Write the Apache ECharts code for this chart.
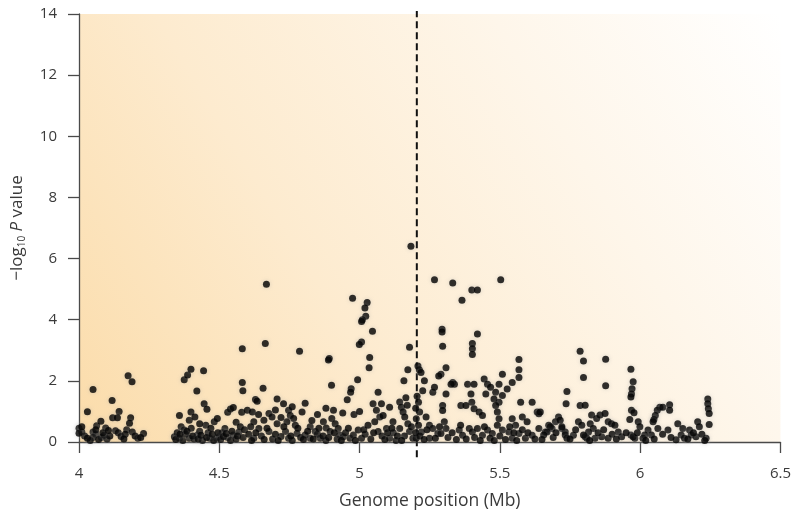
<!DOCTYPE html>
<html>
<head>
<meta charset="utf-8">
<script src="https://cdn.jsdelivr.net/npm/echarts@6/dist/echarts.min.js"></script>
<style>
  html, body { margin: 0; padding: 0; background: #fff; }
  #chart { width: 794px; height: 515px; }
</style>
</head>
<body>
<div id="chart"></div>
<script>
// genome position (Mb), -log10 P, grouped by region
var leftCluster = [
  [4.0,0.45],[4.01,0.33],[4.03,0.99],[4.05,1.72],[4.05,0.33],[4.06,0.25],[4.05,0.15],[4.08,0.15],
  [4.10,0.1],[4.063,0.53],[4.095,0.46],[4.078,0.68],[4.118,1.36],[4.143,1.0],[4.12,0.79],[4.137,0.79],
  [4.184,0.79],[4.13,0.37],[4.14,0.3],[4.17,0.4],[4.19,0.33],[4.21,0.12],[4.23,0.28],[4.18,0.61],
  [4.175,2.17],[4.189,1.97],[4.02,0.2],[4.04,0.05],[4.07,0.08],[4.09,0.22],[4.15,0.18],[4.165,0.25],
  [4.2,0.2],[4.11,0.2],[4.0,0.29],[4.01,0.5],[4.03,0.12],[4.06,0.4],[4.085,0.3],[4.105,0.38],
  [4.16,0.1],[4.22,0.15]
];
var secondCluster = [
  [4.34,0.17],[4.358,0.12],[4.364,0.5],[4.375,0.39],[4.358,0.87],[4.393,0.12],[4.393,0.71],[4.399,0.98],
  [4.413,0.82],[4.422,0.23],[4.446,1.25],[4.456,1.07],[4.452,0.55],[4.466,0.12],[4.482,0.66],[4.49,0.12],
  [4.493,0.77],[4.50,0.17],[4.52,0.44],[4.53,0.15],[4.53,0.97],[4.54,1.08],[4.55,1.13],[4.55,0.23],
  [4.56,0.65],[4.57,0.33],[4.58,0.97],[4.375,2.04],[4.387,2.19],[4.399,2.38],[4.444,2.33],[4.42,1.67],
  [4.582,3.05],[4.584,1.68],[4.582,1.95],[4.35,0.3],[4.37,0.05],[4.38,0.25],[4.41,0.1],[4.43,0.35],
  [4.44,0.05],[4.46,0.3],[4.47,0.45],[4.48,0.05],[4.51,0.3],[4.54,0.05],[4.56,0.1],[4.575,0.5],
  [4.40,0.45],[4.43,0.6],[4.345,0.08],[4.36,0.25],[4.385,0.35],[4.405,0.2],[4.425,0.1],[4.435,0.22],
  [4.455,0.15],[4.475,0.25],[4.495,0.3],[4.505,0.08],[4.515,0.18],[4.525,0.28],[4.545,0.35],[4.565,0.2],
  [4.585,0.15],[4.59,0.4]
];
var centreLeft = [
  [4.600,1.04],[4.618,0.98],[4.677,0.93],[4.688,0.82],[4.747,1.04],[4.753,0.87],[4.765,0.77],[4.795,0.98],
  [4.741,0.66],[4.771,0.55],[4.706,0.60],[4.659,0.71],[4.623,0.66],[4.612,0.50],[4.641,0.44],[4.677,0.34],
  [4.736,0.34],[4.777,0.28],[4.824,0.50],[4.842,0.34],[4.871,0.66],[4.901,0.77],[4.907,1.04],[4.913,0.60],
  [4.881,0.46],[4.895,0.34],[4.924,0.44],[4.930,0.23],[4.942,0.17],[4.966,0.12],[4.978,0.23],[4.995,0.39],
  [5.007,0.12],[4.86,0.12],[4.824,0.12],[4.806,0.23],[4.623,0.12],[4.747,0.12],[5.048,1.25],[5.06,1.04],
  [5.078,1.25],[5.072,0.82],[5.054,0.66],[5.084,0.87],[5.107,1.14],[5.119,0.66],[5.143,1.31],[5.149,1.14],
  [5.155,0.98],[5.161,0.82],[5.172,0.60],[5.143,0.44],[5.096,0.44],[5.107,0.12],[5.066,0.34],[5.178,0.34],
  [5.19,0.12],[4.668,5.16],[4.975,4.70],[5.027,4.56],[5.019,4.38],[5.022,4.11],[5.01,4.0],[5.007,3.94],
  [5.046,3.62],[5.007,3.27],[4.999,3.19],[4.664,3.22],[4.786,2.97],[4.892,2.73],[4.889,2.68],[5.036,2.76],
  [5.034,2.43],[5.178,3.10],[5.172,2.36],[5.158,2.0],[4.90,1.86],[4.993,2.04],[4.97,1.74],[4.968,1.63],
  [4.956,1.38],[4.656,1.76],[5.066,1.63],[4.629,1.39],[4.635,1.33],[4.706,1.41],[4.729,1.25],[4.806,1.27],
  [5.183,6.40],[4.65,0.2],[4.69,0.1],[4.72,0.18],[4.76,0.05],[4.79,0.15],[4.85,0.25],[4.88,0.05],
  [4.92,0.1],[4.95,0.3],[5.02,0.25],[5.04,0.1],[5.08,0.2],[5.12,0.3],[5.16,0.2],[5.17,1.2],
  [5.165,1.45],[4.64,0.9],[4.72,0.8],[4.83,0.7],[4.98,0.9],[5.0,1.0],[5.13,0.05],
  [4.605,0.25],[4.615,0.05],[4.63,0.3],[4.66,0.08],[4.67,0.45],[4.7,0.25],[4.71,0.05],[4.73,0.5],
  [4.755,0.2],[4.78,0.45],[4.8,0.08],[4.815,0.35],[4.835,0.1],[4.855,0.45],[4.87,0.2],[4.89,0.15],
  [4.91,0.3],[4.935,0.05],[4.96,0.45],[4.985,0.05],[5.015,0.4],[5.03,0.55],[5.05,0.3],[5.09,0.08],
  [5.1,0.3],[5.115,0.45],[5.135,0.2],[5.15,0.05],[5.185,0.5],[4.7,1.05],[4.76,1.15],[4.85,0.9],
  [4.88,1.1],[4.94,0.95]
];
var centreRight = [
  [5.267,5.31],[5.332,5.20],[5.40,4.97],[5.42,4.97],[5.365,4.64],[5.503,5.31],[5.294,3.69],[5.294,3.6],
  [5.296,3.13],[5.42,3.53],[5.402,3.22],[5.402,3.05],[5.402,2.86],[5.568,2.70],[5.568,2.36],[5.568,2.11],
  [5.786,2.97],[5.798,2.65],[5.798,2.11],[5.208,2.49],[5.213,2.36],[5.219,2.27],[5.231,2.0],[5.308,2.43],
  [5.29,2.22],[5.282,2.16],[5.332,1.95],[5.338,1.89],[5.326,1.89],[5.385,1.89],[5.408,1.89],[5.444,2.06],
  [5.456,1.89],[5.497,1.89],[5.509,2.22],[5.544,1.95],[5.225,1.68],[5.261,1.63],[5.267,1.79],[5.308,1.57],
  [5.397,1.57],[5.40,1.30],[5.45,1.57],[5.467,1.79],[5.485,1.63],[5.509,1.52],[5.526,1.73],[5.497,1.30],
  [5.296,1.19],[5.296,1.03],[5.361,1.19],[5.379,1.19],[5.408,1.09],[5.426,0.98],[5.438,0.87],[5.479,1.41],
  [5.485,1.19],[5.491,0.98],[5.497,0.76],[5.574,1.30],[5.615,1.30],[5.633,0.98],[5.639,0.92],[5.739,1.65],
  [5.736,1.25],[5.786,1.19],[5.709,0.82],[5.698,0.66],[5.686,0.44],[5.58,0.82],[5.597,0.66],[5.544,0.76],
  [5.556,0.55],[5.214,0.98],[5.202,0.76],[5.237,0.82],[5.249,0.55],[5.22,0.33],[5.261,0.44],[5.279,0.28],
  [5.302,0.66],[5.308,0.44],[5.29,0.28],[5.355,0.39],[5.367,0.22],[5.391,0.44],[5.402,0.33],[5.42,0.44],
  [5.438,0.22],[5.456,0.39],[5.473,0.28],[5.491,0.55],[5.509,0.39],[5.532,0.33],[5.544,0.12],[5.568,0.28],
  [5.591,0.12],[5.615,0.22],[5.639,0.44],[5.662,0.33],[5.674,0.55],[5.721,0.44],[5.733,0.33],[5.762,0.22],
  [5.78,0.66],[5.792,0.55],[5.804,0.17],[5.249,0.12],[5.202,0.12],[5.644,0.98],[5.715,0.71],[5.68,0.50],
  [5.668,0.33],[5.656,0.23],[5.721,0.50],[5.733,0.23],[5.739,0.12],[5.205,1.5],[5.21,1.3],[5.2,1.1],
  [5.21,0.55],[5.2,0.3],[5.215,0.2],[5.23,0.08],[5.24,0.4],[5.27,0.12],[5.285,0.5],[5.315,0.15],
  [5.33,0.3],[5.345,0.08],[5.36,0.55],[5.38,0.1],[5.41,0.15],[5.43,0.05],[5.445,0.5],[5.465,0.12],
  [5.48,0.05],[5.5,0.2],[5.52,0.08],[5.535,0.5],[5.55,0.3],[5.56,0.05],[5.58,0.4],[5.6,0.3],
  [5.625,0.1],[5.65,0.08],[5.69,0.15],[5.7,0.3],[5.75,0.1],[5.77,0.4]
];
var rightCluster = [
  [5.877,2.71],[5.877,1.84],[5.967,2.38],[5.975,1.97],[5.971,1.74],[5.969,1.57],[5.967,1.47],[5.969,1.04],
  [5.978,0.96],[5.963,0.74],[5.993,0.66],[5.999,0.50],[5.967,0.23],[5.981,0.12],[5.975,0.17],[6.07,1.14],
  [6.061,1.04],[6.054,0.87],[6.049,0.74],[6.046,0.66],[6.081,1.14],[6.105,1.22],[6.105,1.04],[6.134,0.60],
  [6.152,0.44],[6.176,0.39],[6.205,0.66],[6.211,0.50],[6.182,0.23],[6.146,0.23],[6.128,0.07],[6.158,0.12],
  [6.199,0.17],[6.235,0.12],[6.099,0.39],[6.063,0.44],[6.028,0.39],[6.04,0.23],[6.016,0.23],[6.01,0.12],
  [6.241,1.41],[6.241,1.25],[6.243,1.09],[6.246,0.93],[6.246,0.57],[5.804,1.20],[5.827,0.88],[5.845,0.77],
  [5.857,0.88],[5.875,0.93],[5.886,0.66],[5.898,0.60],[5.91,0.55],[5.822,0.60],[5.833,0.44],[5.816,0.33],
  [5.839,0.12],[5.863,0.17],[5.886,0.12],[5.922,0.33],[5.934,0.17],[5.81,0.12],[5.798,0.23],
  [5.82,0.05],[5.85,0.3],[5.87,0.4],[5.9,0.25],[5.915,0.1],[5.95,0.3],[5.99,0.3],[6.02,0.05],
  [6.05,0.1],[6.08,0.25],[6.11,0.15],[6.17,0.1],[6.19,0.3],[6.22,0.25],[6.23,0.05]
];
var markerPos = 5.204;          // dashed vertical marker (Mb)
var markerSpan = [-0.5, 14.1];  // vertical extent of the marker
var xTicks = [4, 6.5, 0.5];     // min, max, interval
var yTicks = [0, 14, 2];

var font = '"Open Sans", "Noto Sans", sans-serif';
var chart = echarts.init(document.getElementById('chart'), null, { renderer: 'canvas' });

var points = [].concat(leftCluster, secondCluster, centreLeft, centreRight, rightCluster);

var axisCommon = {
  axisLine: { show: true, lineStyle: { color: '#4a4a4a', width: 1.3 } },
  axisTick: { show: true, inside: false, length: 11, lineStyle: { color: '#4a4a4a', width: 1.3 } },
  splitLine: { show: false },
  axisLabel: { color: '#3a3a3a', fontFamily: font, fontSize: 15 }
};

chart.setOption({
  backgroundColor: '#ffffff',
  animation: false,
  grid: {
    left: 79, right: 9, top: 14, bottom: 68,
    show: true, borderWidth: 0,
    backgroundColor: new echarts.graphic.LinearGradient(0, 1, 1, 0, [
      { offset: 0, color: '#fbdcaa' },
      { offset: 0.35, color: '#fdebcf' },
      { offset: 0.7, color: '#fef6ea' },
      { offset: 1, color: '#ffffff' }
    ])
  },
  xAxis: Object.assign({}, axisCommon, {
    type: 'value',
    min: xTicks[0], max: xTicks[1], interval: xTicks[2],
    name: 'Genome position (Mb)',
    nameLocation: 'middle', nameGap: 50,
    nameTextStyle: { color: '#3a3a3a', fontFamily: font, fontSize: 17.5 },
    axisLabel: Object.assign({}, axisCommon.axisLabel, { margin: 24 })
  }),
  yAxis: Object.assign({}, axisCommon, {
    type: 'value',
    min: yTicks[0], max: yTicks[1], interval: yTicks[2],
    name: '{a|\u2212log}{b|10}{a| }{i|P}{a| value}',
    nameLocation: 'middle', nameGap: 52, nameRotate: 90,
    nameTextStyle: {
      color: '#3a3a3a', fontFamily: font, fontSize: 17,
      rich: {
        a: { fontFamily: font, fontSize: 17, lineHeight: 20, color: '#3a3a3a' },
        i: { fontFamily: font, fontSize: 17, lineHeight: 20, fontStyle: 'italic', color: '#3a3a3a' },
        b: { fontFamily: font, fontSize: 10, lineHeight: 10, verticalAlign: 'bottom', color: '#3a3a3a' }
      }
    },
    axisLabel: Object.assign({}, axisCommon.axisLabel, { margin: 22 })
  }),
  series: [
    {
      type: 'line',
      data: [[markerPos, markerSpan[0]], [markerPos, markerSpan[1]]],
      symbol: 'none',
      clip: false,
      silent: true,
      z: 1,
      lineStyle: { color: '#111', width: 2, type: [7, 4] }
    },
    {
      type: 'scatter',
      data: points,
      symbol: 'circle',
      symbolSize: 7,
      z: 3,
      itemStyle: {
        color: '#000',
        shadowBlur: 4,
        shadowColor: 'rgba(160,160,160,0.5)'
      }
    }
  ]
});

window.addEventListener('resize', function () { chart.resize(); });
</script>
</body>
</html>
